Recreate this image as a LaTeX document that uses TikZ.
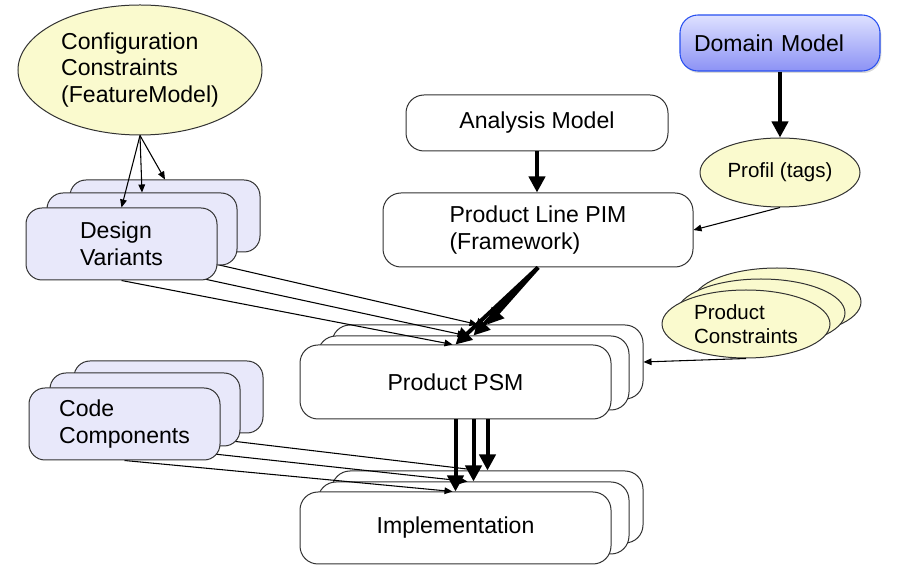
\documentclass[tikz,border=0pt]{standalone}
\usepackage{fontspec}
\setmainfont{Liberation Sans}
\usetikzlibrary{shapes.geometric,arrows.meta,calc,shadows}
\pgfdeclarelayer{fg}
\pgfdeclarelayer{top}
\pgfsetlayers{main,fg,top}
\definecolor{ylw}{RGB}{250,250,206}
\definecolor{lav}{RGB}{232,232,250}
\definecolor{bord}{RGB}{50,50,50}
\definecolor{dmtop}{RGB}{222,225,255}
\definecolor{dmbot}{RGB}{140,146,245}
\definecolor{dmline}{RGB}{40,80,240}
\begin{document}
\begin{tikzpicture}[x=0.75pt,y=-0.75pt,
  font=\fontsize{17.3}{20.2}\selectfont,
  sz/.style 2 args={minimum width=#1*0.75pt, minimum height=#2*0.75pt},
  wbox/.style={draw=bord, line width=0.75pt, rounded corners=13.5pt, fill=white, inner sep=0pt, align=center},
  lbox/.style={draw=bord, line width=0.75pt, rounded corners=12pt, fill=lav, inner sep=0pt, align=left},
  yell/.style={draw=bord, line width=0.75pt, ellipse, fill=ylw, inner sep=0pt},
  smallfont/.style={font=\fontsize{15.4}{18}\selectfont},
  thinarr/.style={line width=0.8pt, -{Triangle[length=6pt,width=5pt]}},
  thickarr/.style={line width=3pt, -{Triangle[length=12pt,width=12pt]}}
]
\useasboundingbox (0,0) rectangle (908,566);

% stacks on the foreground layer
\begin{pgfonlayer}{fg}
\node[lbox, sz={190}{72}] (dv3) at (165,216) {};
\node[lbox, sz={190}{72}] (dv2) at (142,229) {};
\node[lbox, sz={191}{72}] (dv1) at (121.5,244) {Design\\Variants};
\node[lbox, sz={189}{72}] (cc3) at (168.5,397) {};
\node[lbox, sz={190}{73}] (cc2) at (145,409.5) {};
\node[lbox, sz={191}{72}] (cc1) at (124.5,424) {Code\\Components};
\end{pgfonlayer}

% main nodes
\node[yell, sz={244}{130}, align=left] (cfg) at (140,70) {Configuration\\Constraints\\(FeatureModel)};
\node[wbox, sz={262}{56}] (am) at (537,123) {Analysis Model};
\node[wbox, sz={310}{74}, align=left] (pim) at (538,230) {Product Line PIM\\(Framework)};
\node[draw=dmline, line width=0.8pt, rounded corners=13.5pt, top color=dmtop, bottom color=dmbot,
      drop shadow={shadow xshift=1pt, shadow yshift=-1.5pt, opacity=0.3},
      text width=129pt, inner xsep=10.5pt, inner ysep=0pt, minimum height=42pt, align=left] (dm) at (780,43) {Domain Model};
\node[yell, sz={160}{69}, smallfont] (pf) at (780,172.5) {Profil (tags)};

\node[yell, sz={168}{68}] (pc3) at (777,302) {};
\node[yell, sz={168}{68}] (pc2) at (761,313) {};
\node[yell, sz={168}{68}, smallfont, align=left] (pc1) at (746,324) {Product\\Constraints};

\node[wbox, sz={311}{74}] (psm3) at (487.5,362) {};
\node[wbox, sz={311}{74}] (psm2) at (473.5,373) {};
\node[wbox, sz={311}{74}] (psm1) at (455.5,382) {Product PSM};

\node[wbox, sz={311}{72}] (im3) at (487.5,507) {};
\node[wbox, sz={311}{72}] (im2) at (473.5,518) {};
\node[wbox, sz={311}{72}] (im1) at (455.5,528) {Implementation};

% connectors
\draw[thickarr] (am.south) -- (am.south |- pim.north);
\draw[thickarr] (dm.south) -- (pf.north);
\draw[thinarr] (pf.south) -- (pim.east);
\draw[thinarr] (pc1.south) -- (psm3.east);

\draw[thinarr] (dv1.south) -- ($(psm1.north)+(-3,0)$);
\draw[thinarr] (dv2.south) -- ($(psm2.north)+(-8,0)$);
\draw[thinarr] (dv3.south) -- ($(psm3.north)+(-10,0)$);

\draw[thickarr] (pim.south) -- (psm3.north);
\draw[thickarr] (pim.south) -- (psm2.north);
\draw[thickarr] (pim.south) -- (psm1.north);

\draw[thinarr] (cc1.south) -- ($(im1.north)+(-3,0)$);
\draw[thinarr] (cc2.south) -- ($(im2.north)+(-6,0)$);
\draw[thinarr] (cc3.south) -- ($(im3.north)+(-8,0)$);

\draw[thickarr] (psm1.south -| im3.north) -- (im3.north);
\draw[thickarr] (psm1.south -| im2.north) -- (im2.north);
\draw[thickarr] (psm1.south -| im1.north) -- (im1.north);

\begin{pgfonlayer}{top}
\draw[thinarr] (cfg.south) -- (dv1.north);
\draw[thinarr] (cfg.south) -- (dv2.north);
\draw[thinarr] (cfg.south) -- (dv3.north);
\end{pgfonlayer}
\end{tikzpicture}
\end{document}
